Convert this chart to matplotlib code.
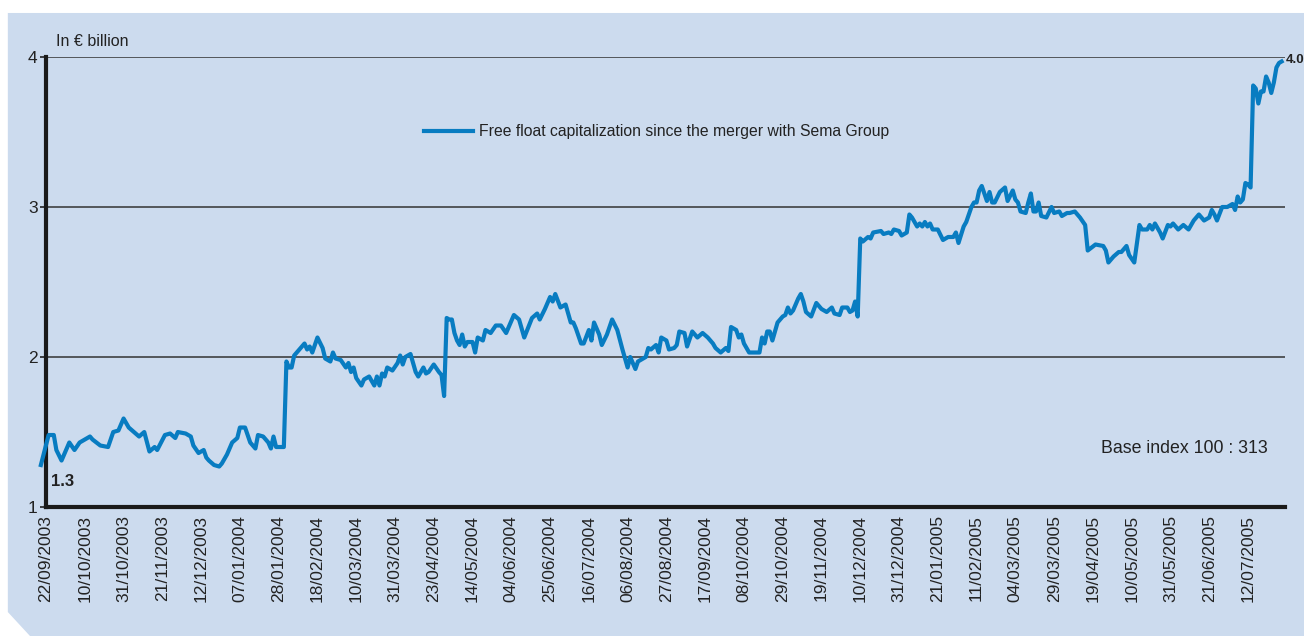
import numpy as np
import matplotlib
matplotlib.use("Agg")
import matplotlib.pyplot as plt
from matplotlib.patches import Polygon

plt.rcParams['font.family'] = ['Liberation Sans Narrow', 'Liberation Sans', 'DejaVu Sans']

# trading session number (0 = 22/09/2003) and free float capitalization in EUR bn
sessions = [-2, 1, 3, 4, 6, 9, 11, 13, 17, 18, 21, 24, 26, 28, 30, 32, 34, 36, 38, 40,
            42, 43, 46, 48, 50, 51, 54, 56, 57, 59, 61, 62, 63, 65, 67, 68, 70, 72, 74, 75,
            77, 79, 81, 82, 84, 86, 87, 88, 89, 91, 92, 93, 94, 95, 96, 98, 100, 101, 102, 103,
            105, 107, 108, 110, 111, 112, 114, 116, 117, 118, 119, 120, 122, 123, 125, 127, 128, 129, 130, 131,
            132, 134, 136, 137, 138, 139, 141, 143, 144, 146, 147, 148, 150, 152, 153, 154, 155, 156, 157, 158,
            159, 160, 161, 162, 163, 165, 166, 167, 169, 170, 172, 174, 176, 178, 181, 183, 185, 188, 190, 191,
            193, 195, 196, 197, 199, 201, 203, 204, 205, 207, 208, 210, 211, 212, 214, 215, 217, 219, 221, 223,
            225, 226, 228, 229, 232, 233, 234, 236, 237, 238, 240, 241, 243, 244, 245, 247, 248, 250, 252, 254,
            256, 258, 259, 261, 263, 264, 265, 267, 268, 269, 270, 272, 274, 276, 277, 278, 279, 280, 281, 283,
            285, 286, 287, 288, 289, 291, 292, 293, 294, 296, 298, 300, 302, 304, 305, 307, 308, 310, 311, 312,
            313, 314, 315, 316, 318, 319, 320, 323, 324, 326, 327, 328, 330, 331, 333, 334, 335, 337, 338, 339,
            340, 341, 342, 343, 345, 347, 349, 351, 352, 353, 355, 356, 358, 359, 360, 361, 362, 363, 364, 365,
            366, 367, 369, 371, 372, 374, 375, 376, 377, 379, 380, 381, 382, 383, 384, 385, 387, 389, 390, 392,
            393, 395, 396, 398, 400, 402, 403, 406, 409, 410, 411, 413, 415, 416, 418, 419, 421, 423, 424, 426,
            427, 428, 429, 431, 432, 434, 435, 436, 438, 440, 442, 444, 446, 448, 450, 451, 452, 453, 455, 457,
            459, 460, 461, 462, 463, 464, 465, 466, 467, 468, 469, 470, 471, 472, 473, 474, 475, 476, 477, 478]
cap = [1.28, 1.48, 1.48, 1.38, 1.31, 1.43, 1.38, 1.43, 1.47, 1.45, 1.41, 1.40, 1.50, 1.51, 1.59, 1.53, 1.50, 1.47, 1.50, 1.37,
       1.40, 1.38, 1.48, 1.49, 1.46, 1.50, 1.49, 1.47, 1.41, 1.36, 1.38, 1.33, 1.31, 1.28, 1.27, 1.29, 1.35, 1.43, 1.46, 1.53,
       1.53, 1.43, 1.39, 1.48, 1.47, 1.43, 1.39, 1.47, 1.40, 1.40, 1.40, 1.97, 1.93, 1.93, 2.01, 2.05, 2.09, 2.05, 2.07, 2.03,
       2.13, 2.06, 1.99, 1.97, 2.03, 1.99, 1.98, 1.93, 1.96, 1.90, 1.93, 1.86, 1.81, 1.85, 1.87, 1.81, 1.87, 1.81, 1.89, 1.87,
       1.93, 1.91, 1.96, 2.01, 1.95, 2.00, 2.02, 1.90, 1.87, 1.93, 1.89, 1.90, 1.95, 1.90, 1.88, 1.74, 2.26, 2.25, 2.25, 2.16,
       2.11, 2.08, 2.15, 2.07, 2.10, 2.10, 2.03, 2.13, 2.11, 2.18, 2.16, 2.21, 2.21, 2.16, 2.28, 2.25, 2.13, 2.26, 2.29, 2.25,
       2.32, 2.40, 2.37, 2.42, 2.33, 2.35, 2.23, 2.23, 2.19, 2.09, 2.09, 2.18, 2.11, 2.23, 2.15, 2.08, 2.15, 2.25, 2.18, 2.05,
       1.93, 2.00, 1.92, 1.97, 2.00, 2.06, 2.05, 2.08, 2.03, 2.13, 2.11, 2.05, 2.06, 2.08, 2.17, 2.16, 2.07, 2.17, 2.13, 2.16,
       2.13, 2.09, 2.06, 2.03, 2.06, 2.04, 2.20, 2.18, 2.13, 2.15, 2.09, 2.03, 2.03, 2.03, 2.13, 2.09, 2.17, 2.17, 2.11, 2.23,
       2.27, 2.28, 2.33, 2.29, 2.31, 2.39, 2.42, 2.37, 2.30, 2.27, 2.36, 2.32, 2.30, 2.33, 2.29, 2.28, 2.33, 2.33, 2.30, 2.31,
       2.37, 2.27, 2.79, 2.77, 2.80, 2.79, 2.83, 2.84, 2.82, 2.83, 2.82, 2.85, 2.84, 2.81, 2.83, 2.95, 2.93, 2.87, 2.89, 2.87,
       2.90, 2.87, 2.89, 2.85, 2.85, 2.78, 2.80, 2.80, 2.83, 2.76, 2.87, 2.90, 3.00, 3.03, 3.03, 3.11, 3.14, 3.09, 3.04, 3.10,
       3.03, 3.03, 3.10, 3.13, 3.04, 3.11, 3.05, 3.03, 2.97, 2.96, 3.03, 3.09, 2.97, 2.97, 3.03, 2.94, 2.93, 3.00, 2.96, 2.97,
       2.94, 2.96, 2.96, 2.97, 2.93, 2.88, 2.71, 2.75, 2.74, 2.71, 2.63, 2.67, 2.70, 2.70, 2.74, 2.68, 2.63, 2.88, 2.85, 2.85,
       2.88, 2.85, 2.89, 2.83, 2.79, 2.88, 2.87, 2.89, 2.85, 2.88, 2.85, 2.91, 2.95, 2.91, 2.93, 2.98, 2.95, 2.91, 3.00, 3.00,
       3.02, 2.98, 3.07, 3.03, 3.05, 3.16, 3.15, 3.13, 3.81, 3.79, 3.69, 3.77, 3.77, 3.87, 3.83, 3.76, 3.83, 3.93, 3.96, 3.97]

tick_labels = ['22/09/2003', '10/10/2003', '31/10/2003', '21/11/2003', '12/12/2003', '07/01/2004',
               '28/01/2004', '18/02/2004', '10/03/2004', '31/03/2004', '23/04/2004', '14/05/2004',
               '04/06/2004', '25/06/2004', '16/07/2004', '06/08/2004', '27/08/2004', '17/09/2004',
               '08/10/2004', '29/10/2004', '19/11/2004', '10/12/2004', '31/12/2004', '21/01/2005',
               '11/02/2005', '04/03/2005', '29/03/2005', '19/04/2005', '10/05/2005', '31/05/2005',
               '21/06/2005', '12/07/2005']
tick_step = 15

bg = '#ccdbee'
blue = '#087cc1'
ink = '#222222'

fig = plt.figure(figsize=(13.04, 6.36), dpi=100)
fig.patch.set_facecolor('white')
fig.patches.append(Polygon([(0.006, 0.9796), (1, 0.9796), (1, 0), (0.023, 0), (0.006, 0.0377)],
                           closed=True, transform=fig.transFigure, facecolor=bg, edgecolor='none', zorder=-5))

ax = fig.add_axes([0.0353, 0.2028, 0.9501, 0.7076])
ax.set_facecolor('none')
ax.set_zorder(2)

ax.plot(sessions, cap, color=blue, lw=3, clip_on=False, zorder=3,
        label='Free float capitalization since the merger with Sema Group')

ax.set_xlim(0, 479.3)
ax.set_ylim(1, 4)
ax.set_yticks([1, 2, 3, 4])
ax.set_yticklabels(['1', '2', '3', '4'], fontsize=12.5, color=ink)
ax.set_xticks(np.arange(len(tick_labels)) * tick_step)
ax.set_xticklabels(tick_labels, rotation=90, fontsize=12.5, color=ink)
ax.tick_params(axis='x', length=0, pad=6)
ax.tick_params(axis='y', length=4, width=1.2, pad=2, color=ink)

for v in [2, 3, 4]:
    ax.axhline(v, color='#333333', lw=1.1, zorder=1)

for s in ['top', 'right']:
    ax.spines[s].set_visible(False)
for s in ['left', 'bottom']:
    ax.spines[s].set_linewidth(3)
    ax.spines[s].set_color('#1a1a1a')

ax.text(0.0077, 1.035, 'In € billion', transform=ax.transAxes, fontsize=11.5,
        color=ink, va='center', ha='left')
ax.text(sessions[0] + 4, 1.17, '1.3', fontsize=12, fontweight='bold', color=ink, va='center')
ax.text(1.0003, 3.98, '4.0', transform=ax.get_yaxis_transform(), fontsize=9.5,
        fontweight='bold', color=ink, va='center', ha='left', clip_on=False)
ax.text(0.986, 1.39, 'Base index 100 : 313', transform=ax.get_yaxis_transform(), fontsize=12.8,
        color=ink, va='center', ha='right')

ax.legend(loc='center left', bbox_to_anchor=(424 / 1304, 1 - 132 / 636), bbox_transform=fig.transFigure,
          frameon=False, fontsize=11.3, handlelength=3.1, handletextpad=0.4,
          borderpad=0, borderaxespad=0, labelcolor=ink)

fig.savefig('out.png', dpi=100, facecolor=fig.get_facecolor())
